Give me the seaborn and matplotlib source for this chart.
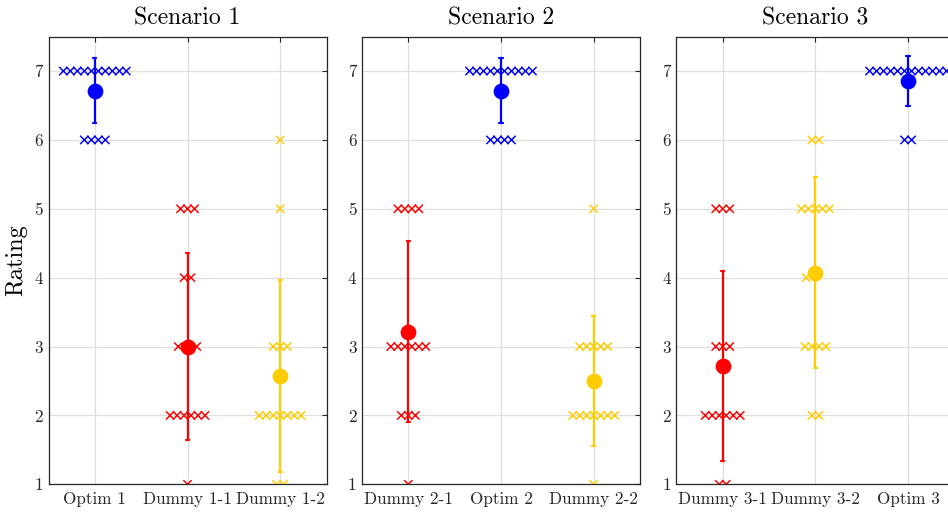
import numpy as np
import pandas as pd
import matplotlib
matplotlib.use("Agg")
import matplotlib.pyplot as plt
import seaborn as sns

# ---------------- data (counts of ratings 1..7 per condition) ----------------
levels = [1, 2, 3, 4, 5, 6, 7]
scenario_titles = ["Scenario 1", "Scenario 2", "Scenario 3"]
scenario_labels = [
    ["Optim 1", "Dummy 1-1", "Dummy 1-2"],
    ["Dummy 2-1", "Optim 2", "Dummy 2-2"],
    ["Dummy 3-1", "Dummy 3-2", "Optim 3"],
]
scenario_kinds = [
    ["optim", "dummyA", "dummyB"],
    ["dummyA", "optim", "dummyB"],
    ["dummyA", "dummyB", "optim"],
]
# counts for ratings            1  2  3  4  5  6  7
optim_1_counts   = [0, 0, 0, 0, 0, 4, 10]
dummy_1_1_counts = [1, 6, 2, 2, 3, 0, 0]
dummy_1_2_counts = [2, 7, 3, 0, 1, 1, 0]
dummy_2_1_counts = [1, 3, 6, 0, 4, 0, 0]
optim_2_counts   = [0, 0, 0, 0, 0, 4, 10]
dummy_2_2_counts = [1, 7, 5, 0, 1, 0, 0]
dummy_3_1_counts = [2, 6, 3, 0, 3, 0, 0]
dummy_3_2_counts = [0, 2, 4, 1, 5, 2, 0]
optim_3_counts   = [0, 0, 0, 0, 0, 2, 12]
scenario_counts = [
    [optim_1_counts, dummy_1_1_counts, dummy_1_2_counts],
    [dummy_2_1_counts, optim_2_counts, dummy_2_2_counts],
    [dummy_3_1_counts, dummy_3_2_counts, optim_3_counts],
]
kind_colors = {"optim": "#0000FF", "dummyA": "#FF0000", "dummyB": "#FFCC00"}

# ---------------- style ----------------
sns.set_style("white")
plt.rcParams["font.family"] = ["cmr10", "DejaVu Serif"]
plt.rcParams["axes.formatter.use_mathtext"] = True
plt.rcParams["mathtext.fontset"] = "cm"
dark = "#262626"

fig = plt.figure(figsize=(9.48, 5.13), dpi=100)
W, H = 948.0, 513.0
ax_w = 278.0 / W
ax_b = (H - 484.3) / H
ax_h = (484.3 - 36.6) / H
lefts = [48.5 / W, 362.0 / W, 676.4 / W]

spacing = 0.0755      # horizontal spacing between stacked markers (category units)
gap = 0.10            # shift for markers that sit under the mean dot

for p in range(3):
    ax = fig.add_axes([lefts[p], ax_b, ax_w, ax_h])
    labels = scenario_labels[p]
    kinds = scenario_kinds[p]
    palette = {lab: kind_colors[k] for lab, k in zip(labels, kinds)}

    # long-form ratings
    rows = []
    for lab, cnts in zip(labels, scenario_counts[p]):
        for lv, c in zip(levels, cnts):
            rows += [(lab, lv)] * c
    df = pd.DataFrame(rows, columns=["cond", "rating"])

    # mean +/- sd
    sns.pointplot(data=df, x="cond", y="rating", hue="cond", order=labels,
                  hue_order=labels, palette=palette, errorbar="sd",
                  capsize=0.035, linestyle="none", markers="o", markersize=9.3,
                  err_kws={"linewidth": 1.6}, legend=False, ax=ax)
    for ln in ax.lines:
        ln.set_zorder(6)
    for coll in ax.collections:
        coll.set_zorder(6)

    # individual ratings, stacked horizontally
    pts = []
    for ci, (lab, cnts) in enumerate(zip(labels, scenario_counts[p])):
        sub = df[df.cond == lab]["rating"]
        mean = sub.mean()
        for lv, c in zip(levels, cnts):
            if c == 0:
                continue
            if abs(lv - mean) < 0.1:
                offs = []
                for j in range(c):
                    k = j // 2
                    offs.append((-1 if j % 2 == 0 else 1) * (gap + k * spacing))
            else:
                offs = [(j - (c - 1) / 2.0) * spacing for j in range(c)]
            for o in offs:
                pts.append((ci + o, lv, lab))
    pdf = pd.DataFrame(pts, columns=["x", "rating", "cond"])
    sns.scatterplot(data=pdf, x="x", y="rating", hue="cond", hue_order=labels,
                    palette=palette, marker="x", s=36, linewidth=1.05,
                    legend=False, ax=ax, zorder=3)

    ax.set_xlim(-0.5, 2.5)
    ax.set_ylim(1, 7.5)
    ax.set_xticks(range(3))
    ax.set_xticklabels(labels)
    ax.set_yticks(levels)
    ax.set_yticklabels([str(v) for v in levels])
    ax.set_xlabel("")
    ax.set_ylabel("Rating" if p == 0 else "", fontsize=17.5, color="black",
                  labelpad=5)
    ax.set_title(scenario_titles[p], fontsize=17, color="black", pad=9)
    ax.grid(True, color="#DFDFDF", linewidth=0.9, zorder=0)
    ax.set_axisbelow(True)
    ax.tick_params(direction="in", length=3.8, width=0.8, colors=dark,
                   labelsize=12.3, top=True, right=True, pad=5)
    ax.tick_params(axis="y", labelsize=12.3, pad=4)
    for sp in ax.spines.values():
        sp.set_visible(True)
        sp.set_color(dark)
        sp.set_linewidth(0.9)
    for t in ax.get_xticklabels() + ax.get_yticklabels():
        t.set_color(dark)

fig.savefig("out.png", dpi=100)
